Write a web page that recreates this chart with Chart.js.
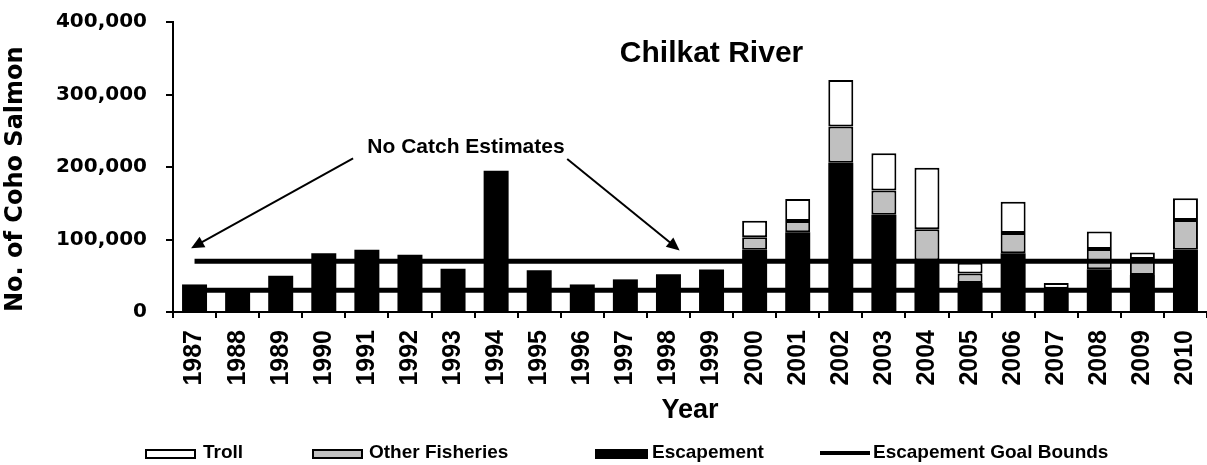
<!DOCTYPE html>
<html>
<head>
<meta charset="utf-8">
<title>Chilkat River coho salmon</title>
<script src="https://cdn.jsdelivr.net/npm/chart.js@4/dist/chart.umd.min.js"></script>
<style>
    body { margin: 0; background: #fff; }
    #wrap { position: relative; width: 1207px; height: 465px; }
    .legend-text { position: absolute; top: 442px; font: bold 19px "Liberation Sans", Arial, sans-serif; line-height: 19px; color: #000; white-space: nowrap; }
    .swatch { position: absolute; top: 449px; height: 10px; box-sizing: border-box; border: 2px solid #000; }
    .swatch-line { position: absolute; top: 451px; height: 4px; width: 50px; background: #000; }
</style>
</head>
<body>
<div id="wrap">
    <canvas id="coho-chart" width="1207" height="465"></canvas>
    <div class="swatch" style="left:145px; width:51px; background:#fff;"></div>
    <div class="legend-text" style="left:203px;">Troll</div>
    <div class="swatch" style="left:312px; width:51px; background:#c0c0c0;"></div>
    <div class="legend-text" style="left:369px;">Other Fisheries</div>
    <div class="swatch" style="left:595px; width:53px; background:#000;"></div>
    <div class="legend-text" style="left:652px;">Escapement</div>
    <div class="swatch-line" style="left:820px;"></div>
    <div class="legend-text" style="left:873px;">Escapement Goal Bounds</div>
</div>
<script>
var years = ["1987", "1988", "1989", "1990", "1991", "1992", "1993", "1994", "1995", "1996", "1997", "1998",
             "1999", "2000", "2001", "2002", "2003", "2004", "2005", "2006", "2007", "2008", "2009", "2010"];

// no catch estimates before 2000
var escapement = [38000, 32000, 50000, 81000, 86000, 79000, 59500, 195000, 57500, 38000, 45000, 52000,
                  58500, 86000, 110000, 206000, 134000, 71000, 40000, 81000, 30000, 59000, 51000, 86000];
var otherFisheries = [null, null, null, null, null, null, null, null, null, null, null, null,
                      null, 17000, 15500, 50000, 33500, 43000, 13000, 28000, 2000, 28000, 22000, 41000];
var troll = [null, null, null, null, null, null, null, null, null, null, null, null,
             null, 23000, 30500, 64000, 51500, 85000, 15000, 43000, 8000, 24000, 9000, 30000];

var goalLower = [{ x: "1987", y: 30000 }, { x: "2010", y: 30000 }];
var goalUpper = [{ x: "1987", y: 70000 }, { x: "2010", y: 70000 }];

var yTickValues = [0, 100000, 200000, 300000, 400000];

const BOLD_ARIAL = '"Liberation Sans", Arial, sans-serif';
const BOLD_WIDE = '"DejaVu Sans", sans-serif';

function drawArrow(ctx, x1, y1, x2, y2) {
    const a = Math.atan2(y2 - y1, x2 - x1);
    const head = 13, half = 6;
    ctx.beginPath();
    ctx.moveTo(x1, y1);
    ctx.lineTo(x2 - Math.cos(a) * head * 0.8, y2 - Math.sin(a) * head * 0.8);
    ctx.lineWidth = 2;
    ctx.stroke();
    ctx.beginPath();
    ctx.moveTo(x2, y2);
    ctx.lineTo(x2 - head * Math.cos(a) + half * Math.sin(a), y2 - head * Math.sin(a) - half * Math.cos(a));
    ctx.lineTo(x2 - head * Math.cos(a) - half * Math.sin(a), y2 - head * Math.sin(a) + half * Math.cos(a));
    ctx.closePath();
    ctx.fill();
}

// title and "No Catch Estimates" note, placed in category/value units
const annotations = {
    id: "annotations",
    afterDatasetsDraw(chart) {
        const { ctx, scales: { x, y } } = chart;
        ctx.save();
        ctx.fillStyle = "#000";
        ctx.strokeStyle = "#000";
        ctx.textAlign = "center";
        ctx.textBaseline = "middle";

        ctx.font = "bold 30px " + BOLD_ARIAL;
        ctx.fillText("Chilkat River", x.getPixelForValue(12), y.getPixelForValue(356000));

        ctx.font = "bold 21px " + BOLD_ARIAL;
        ctx.fillText("No Catch Estimates", x.getPixelForValue(6.3), y.getPixelForValue(227000));

        drawArrow(ctx, x.getPixelForValue(3.68), y.getPixelForValue(212000),
                       x.getPixelForValue(-0.08), y.getPixelForValue(88000));
        drawArrow(ctx, x.getPixelForValue(8.65), y.getPixelForValue(211000),
                       x.getPixelForValue(11.26), y.getPixelForValue(85000));
        ctx.restore();
    }
};

function barSet(label, data, color, border) {
    return {
        type: "bar",
        label: label,
        data: data,
        backgroundColor: color,
        borderColor: "#000",
        borderWidth: border,
        borderSkipped: false,
        barPercentage: 0.58,
        categoryPercentage: 1,
        order: 1
    };
}

function goalSet(data, stack) {
    return {
        type: "line",
        label: "Escapement Goal Bounds",
        data: data,
        stack: stack,
        borderColor: "#000",
        borderWidth: 5,
        pointRadius: 0,
        fill: false,
        order: 0
    };
}

window.addEventListener("load", () => {
    const chart_ctx = document.getElementById("coho-chart");

    new Chart(chart_ctx, {
        type: "bar",
        data: {
            labels: years,
            datasets: [
                barSet("Escapement", escapement, "#000", 0),
                barSet("Other Fisheries", otherFisheries, "#c0c0c0", 2),
                barSet("Troll", troll, "#fff", 2),
                goalSet(goalLower, "lower"),
                goalSet(goalUpper, "upper")
            ]
        },
        options: {
            responsive: false,
            animation: false,
            events: [],
            layout: { padding: { top: 22, right: 0, bottom: 34, left: 0 } },
            plugins: {
                legend: { display: false },
                tooltip: { enabled: false }
            },
            scales: {
                x: {
                    stacked: true,
                    offset: true,
                    grid: { offset: true, drawOnChartArea: false, drawTicks: true, tickLength: 6, color: "#000", lineWidth: 2 },
                    border: { display: true, color: "#000", width: 2 },
                    ticks: {
                        autoSkip: false,
                        minRotation: 90,
                        maxRotation: 90,
                        padding: 12,
                        color: "#000",
                        font: { family: BOLD_ARIAL, weight: "bold", size: 25 }
                    },
                    title: {
                        display: true,
                        text: "Year",
                        color: "#000",
                        padding: { top: 9, bottom: 4 },
                        font: { family: BOLD_ARIAL, weight: "bold", size: 27 }
                    },
                    afterFit: (scale) => {
                        scale.paddingLeft = 0;
                        scale.paddingRight = 0;
                        scale.height = 119;
                    }
                },
                y: {
                    stacked: true,
                    min: 0,
                    max: 400000,
                    grid: { drawOnChartArea: false, drawTicks: true, tickLength: 7, color: "#000", lineWidth: 2 },
                    border: { display: true, color: "#000", width: 2 },
                    afterBuildTicks: (scale) => {
                        scale.ticks = yTickValues.map((v) => { return { value: v } });
                    },
                    ticks: {
                        padding: 19,
                        color: "#000",
                        font: { family: BOLD_WIDE, weight: "bold", size: 20 },
                        callback: (v) => { return v.toLocaleString("en-US") }
                    },
                    title: {
                        display: true,
                        text: "No. of Coho Salmon",
                        align: "start",
                        color: "#000",
                        padding: { top: 1, bottom: 0 },
                        font: { family: BOLD_WIDE, weight: "bold", size: 24 }
                    },
                    afterFit: (scale) => {
                        scale.width = 173;
                        scale.paddingTop = 0;
                        scale.paddingBottom = 0;
                    }
                }
            }
        },
        plugins: [annotations]
    });
});
</script>
</body>
</html>
